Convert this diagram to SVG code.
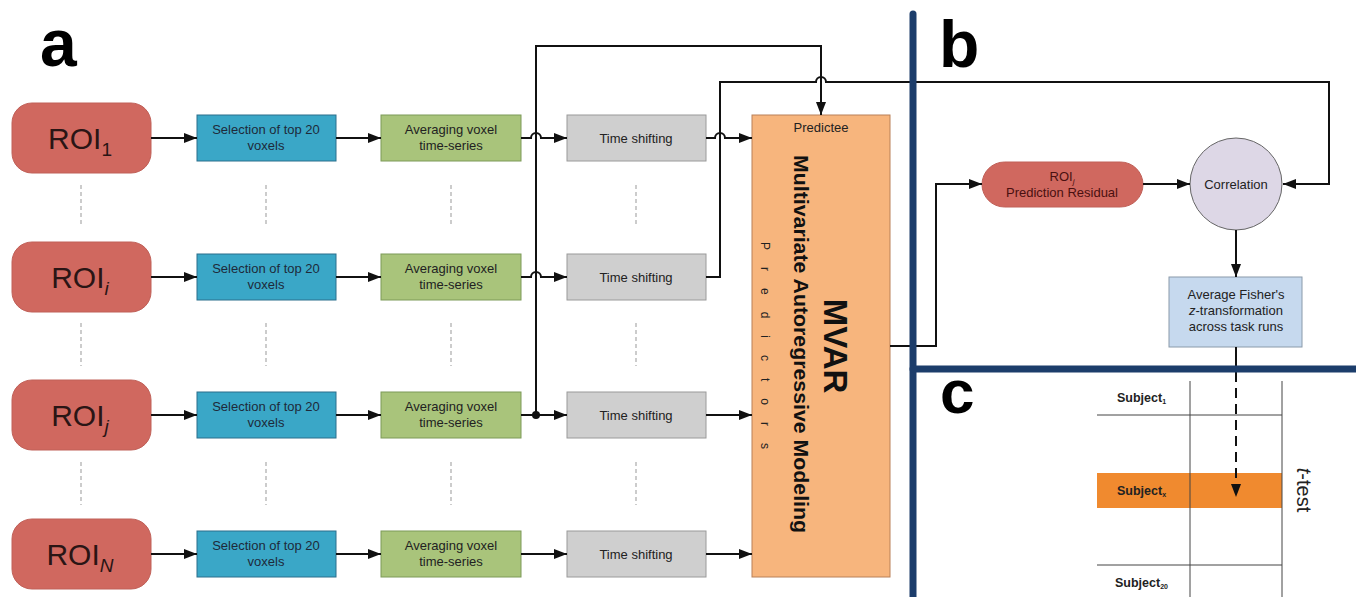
<svg xmlns="http://www.w3.org/2000/svg" width="1356" height="597" viewBox="0 0 1356 597">
<defs>
<marker id="ah" viewBox="0 0 13 10" refX="13" refY="5" markerWidth="13" markerHeight="10" markerUnits="userSpaceOnUse" orient="auto">
<path d="M0,0 L13,5 L0,10 z" fill="#111"/>
</marker>
<style>
text{font-family:"Liberation Sans",Arial,sans-serif;}
.roi{fill:#d0685f;stroke:#c06058;stroke-width:1;}
.roit{font-size:30px;fill:#2a1515;text-anchor:middle;}
.sub{font-size:19px;}
.sel{fill:#3aa7c7;stroke:#2b6f8c;stroke-width:1;}
.avg{fill:#a9c47b;stroke:#7d9a58;stroke-width:1;}
.ts{fill:#cfcfcf;stroke:#9a9a9a;stroke-width:1;}
.bt{font-size:13px;fill:#1e2a3a;text-anchor:middle;}
.bt2{font-size:13px;fill:#222;text-anchor:middle;}
.ln{fill:none;stroke:#111;stroke-width:2;}
.dv{fill:none;stroke:#999;stroke-width:1;stroke-dasharray:4,3;}
.panel{font-size:66px;font-weight:bold;fill:#000;}
.thick{stroke:#1c3d6b;stroke-width:7;stroke-linecap:round;fill:none;}
.grid{stroke:#444;stroke-width:1;fill:none;}
.subj{font-size:12.5px;font-weight:bold;fill:#222;}
</style>
</defs>

<g id="panel-labels">
<text class="panel" x="40" y="66">a</text>
<text class="panel" x="939" y="67">b</text>
<text class="panel" x="940" y="413" style="font-size:62px">c</text>
</g>

<g id="dividers">
<path class="dv" d="M81,185 V227 M266,185 V227 M451,185 V227 M636,185 V227"/>
<path class="dv" d="M81,323 V366 M266,323 V366 M451,323 V366 M636,323 V366"/>
<path class="dv" d="M81,462 V505 M266,462 V505 M451,462 V505 M636,462 V505"/>
</g>

<g id="roi1"><rect class="roi" x="12" y="103" width="139" height="70" rx="20"/><text class="roit" x="80" y="149">ROI<tspan class="sub" dy="7">1</tspan></text></g>
<g id="roii"><rect class="roi" x="12" y="242" width="139" height="70" rx="20"/><text class="roit" x="80" y="288">ROI<tspan class="sub" dy="7" font-style="italic">i</tspan></text></g>
<g id="roij"><rect class="roi" x="12" y="380" width="139" height="70" rx="20"/><text class="roit" x="80" y="426">ROI<tspan class="sub" dy="7" font-style="italic">j</tspan></text></g>
<g id="roin"><rect class="roi" x="12" y="519" width="139" height="70" rx="20"/><text class="roit" x="80" y="565">ROI<tspan class="sub" dy="7" font-style="italic">N</tspan></text></g>

<g id="sel1"><rect class="sel" x="197" y="115" width="139" height="46"/><text class="bt" x="266" y="134">Selection of top 20</text><text class="bt" x="266" y="150">voxels</text></g>
<g id="seli"><rect class="sel" x="197" y="254" width="139" height="46"/><text class="bt" x="266" y="273">Selection of top 20</text><text class="bt" x="266" y="289">voxels</text></g>
<g id="selj"><rect class="sel" x="197" y="392" width="139" height="46"/><text class="bt" x="266" y="411">Selection of top 20</text><text class="bt" x="266" y="427">voxels</text></g>
<g id="seln"><rect class="sel" x="197" y="531" width="139" height="46"/><text class="bt" x="266" y="550">Selection of top 20</text><text class="bt" x="266" y="566">voxels</text></g>

<g id="avg1"><rect class="avg" x="381" y="115" width="140" height="46"/><text class="bt2" x="451" y="134">Averaging voxel</text><text class="bt2" x="451" y="150">time-series</text></g>
<g id="avgi"><rect class="avg" x="381" y="254" width="140" height="46"/><text class="bt2" x="451" y="273">Averaging voxel</text><text class="bt2" x="451" y="289">time-series</text></g>
<g id="avgj"><rect class="avg" x="381" y="392" width="140" height="46"/><text class="bt2" x="451" y="411">Averaging voxel</text><text class="bt2" x="451" y="427">time-series</text></g>
<g id="avgn"><rect class="avg" x="381" y="531" width="140" height="46"/><text class="bt2" x="451" y="550">Averaging voxel</text><text class="bt2" x="451" y="566">time-series</text></g>

<g id="ts1"><rect class="ts" x="567" y="115" width="139" height="46"/><text class="bt2" x="636" y="143">Time shifting</text></g>
<g id="tsi"><rect class="ts" x="567" y="254" width="139" height="46"/><text class="bt2" x="636" y="282">Time shifting</text></g>
<g id="tsj"><rect class="ts" x="567" y="392" width="139" height="46"/><text class="bt2" x="636" y="420">Time shifting</text></g>
<g id="tsn"><rect class="ts" x="567" y="531" width="139" height="46"/><text class="bt2" x="636" y="559">Time shifting</text></g>

<g id="mvar">
<rect x="752" y="115" width="138" height="462" fill="#f7b57d" stroke="#b98058" stroke-width="1"/>
<text x="821" y="132" font-size="13" fill="#222" text-anchor="middle">Predictee</text>
<text transform="translate(824,346) rotate(90)" font-size="33" font-weight="bold" fill="#111" text-anchor="middle">MVAR</text>
<text transform="translate(794,344) rotate(90)" font-size="20" font-weight="bold" fill="#111" text-anchor="middle" textLength="378" lengthAdjust="spacingAndGlyphs">Multivariate Autoregressive Modeling</text>
<text transform="translate(761,242) rotate(90)" font-size="12" fill="#222" letter-spacing="17">Predictors</text>
</g>

<g id="residual">
<rect x="982" y="162" width="161" height="45" rx="22.5" fill="#d0685f" stroke="#c06058"/>
<text x="1062" y="181" font-size="13" fill="#4a1010" text-anchor="middle">ROI<tspan font-size="8" dy="3" font-style="italic">j</tspan></text>
<text x="1062" y="197" font-size="13" fill="#4a1010" text-anchor="middle">Prediction Residual</text>
</g>

<g id="correlation">
<circle cx="1236" cy="184" r="46" fill="#ddd7e6" stroke="#666" stroke-width="1"/>
<text x="1236" y="189" font-size="13" fill="#222" text-anchor="middle">Correlation</text>
</g>

<g id="fisher">
<rect x="1169" y="277" width="133" height="70" fill="#c6d9ee" stroke="#8a9aaa" stroke-width="1"/>
<text x="1236" y="299" font-size="13" fill="#222" text-anchor="middle">Average Fisher's</text>
<text x="1236" y="315" font-size="13" fill="#222" text-anchor="middle"><tspan font-style="italic">z</tspan>-transformation</text>
<text x="1236" y="331" font-size="13" fill="#222" text-anchor="middle">across task runs</text>
</g>

<g id="table">
<rect x="1097" y="473" width="185" height="35" fill="#f08a2f"/>
<path class="grid" d="M1190,381 V597 M1282,381 V597 M1097,415 H1282 M1097,565 H1282"/>
<text class="subj" x="1117" y="402">Subject<tspan font-size="7" dy="2">1</tspan></text>
<text class="subj" x="1117" y="495">Subject<tspan font-size="7" dy="2">x</tspan></text>
<text class="subj" x="1115" y="587">Subject<tspan font-size="7" dy="2">20</tspan></text>
<text transform="translate(1297,490) rotate(90)" font-size="20" fill="#222" text-anchor="middle"><tspan font-style="italic">t</tspan>-test</text>
</g>

<g id="connectors">
<path class="ln" marker-end="url(#ah)" d="M151,138 H197"/>
<path class="ln" marker-end="url(#ah)" d="M151,277 H197"/>
<path class="ln" marker-end="url(#ah)" d="M151,415 H197"/>
<path class="ln" marker-end="url(#ah)" d="M151,554 H197"/>
<path class="ln" marker-end="url(#ah)" d="M336,138 H381"/>
<path class="ln" marker-end="url(#ah)" d="M336,277 H381"/>
<path class="ln" marker-end="url(#ah)" d="M336,415 H381"/>
<path class="ln" marker-end="url(#ah)" d="M336,554 H381"/>
<path class="ln" marker-end="url(#ah)" d="M521,138 H531 A5,5 0 0 1 541,138 H567"/>
<path class="ln" marker-end="url(#ah)" d="M521,277 H531 A5,5 0 0 1 541,277 H567"/>
<path class="ln" marker-end="url(#ah)" d="M521,415 H567"/>
<path class="ln" marker-end="url(#ah)" d="M521,554 H567"/>
<path class="ln" marker-end="url(#ah)" d="M706,138 H715 A5,5 0 0 1 725,138 H752"/>
<path class="ln" marker-end="url(#ah)" d="M706,415 H752"/>
<path class="ln" marker-end="url(#ah)" d="M706,554 H752"/>
<path class="ln" marker-end="url(#ah)" d="M536,415 V46 H821 V115"/>
<circle cx="536" cy="415" r="4" fill="#111"/>
<path class="ln" marker-end="url(#ah)" d="M706,277 H720 V82 H816 A5,5 0 0 1 826,82 H1329 V184 H1283"/>
<path class="ln" marker-end="url(#ah)" d="M890,346 H936 V184 H982"/>
<path class="ln" marker-end="url(#ah)" d="M1143,184 H1190"/>
<path class="ln" marker-end="url(#ah)" d="M1236,230 V277"/>
<path class="ln" d="M1236,347 V372"/>
<path class="ln" marker-end="url(#ah)" stroke-dasharray="10,6" d="M1236,372 V497"/>
</g>

<g id="frame">
<path class="thick" d="M913,14 V597"/>
<path class="thick" d="M913,369 H1356" stroke-linecap="butt"/>
</g>
</svg>
